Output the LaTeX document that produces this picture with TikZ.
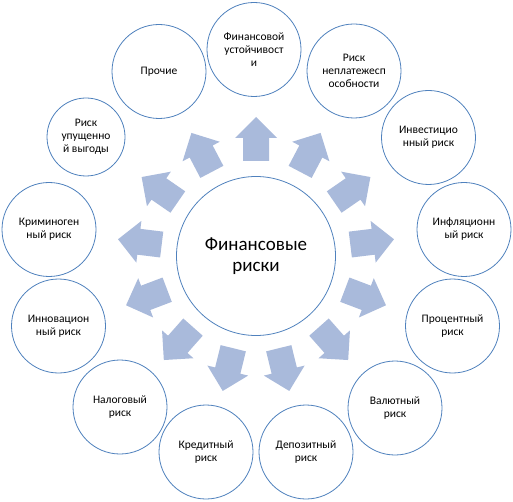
\documentclass[tikz,border=0pt]{standalone}
\usepackage{fontspec}
\setmainfont{Carlito}
\definecolor{ringblue}{HTML}{4F81BD}
\definecolor{arrowfill}{HTML}{A9BADB}
\tikzset{
  outer/.style={circle, draw=ringblue, line width=0.8pt, fill=white, minimum size=94pt, inner sep=0pt, align=center, font=\fontsize{11.5}{13}\selectfont},
  hub/.style={circle, draw=ringblue, line width=0.8pt, fill=white, minimum size=159pt, inner sep=0pt, align=center, font=\fontsize{19}{20.5}\selectfont},
  blockarrow/.style={fill=arrowfill}
}
\begin{document}
\begin{tikzpicture}[x=1pt,y=-1pt]
\useasboundingbox (0,0) rectangle (513,502);
% arrows
\foreach \a in {90,62.31,34.62,6.92,-20.77,-48.46,-76.15,-103.85,-131.54,-159.23,173.08,145.38,117.69}{
  \fill[blockarrow, shift={(256,256)}, rotate=\a] (95,-13) -- (118,-13) -- (118,-21) -- (139,0) -- (118,21) -- (118,13) -- (95,13) -- cycle;
}
\node[hub] (hub) at (256,256) {Финансовые\\риски};
\node[outer] (n0) at (254,49.5) {Финансовой\\устойчивост\\и};
\node[outer] (n1) at (354,71) {Риск\\неплатежесп\\особности};
\node[outer] (n2) at (428.5,137.5) {Инвестицио\\нный риск};
\node[outer] (n3) at (464,229.5) {Инфляционн\\ый риск};
\node[outer] (n4) at (452.5,326) {Процентный\\риск};
\node[outer] (n5) at (395,408) {Валютный\\риск};
\node[outer] (n6) at (306,452) {Депозитный\\риск};
\node[outer] (n7) at (206,452) {Кредитный\\риск};
\node[outer] (n8) at (120,407) {Налоговый\\риск};
\node[outer] (n9) at (58.5,326) {Инновацион\\ный риск};
\node[outer] (n10) at (49,229.5) {Криминоген\\ный риск};
\node[outer, minimum size=78pt] (n11) at (86,137) {Риск\\упущенно\\й выгоды};
\node[outer] (n12) at (159,71.5) {Прочие};
\end{tikzpicture}
\end{document}
